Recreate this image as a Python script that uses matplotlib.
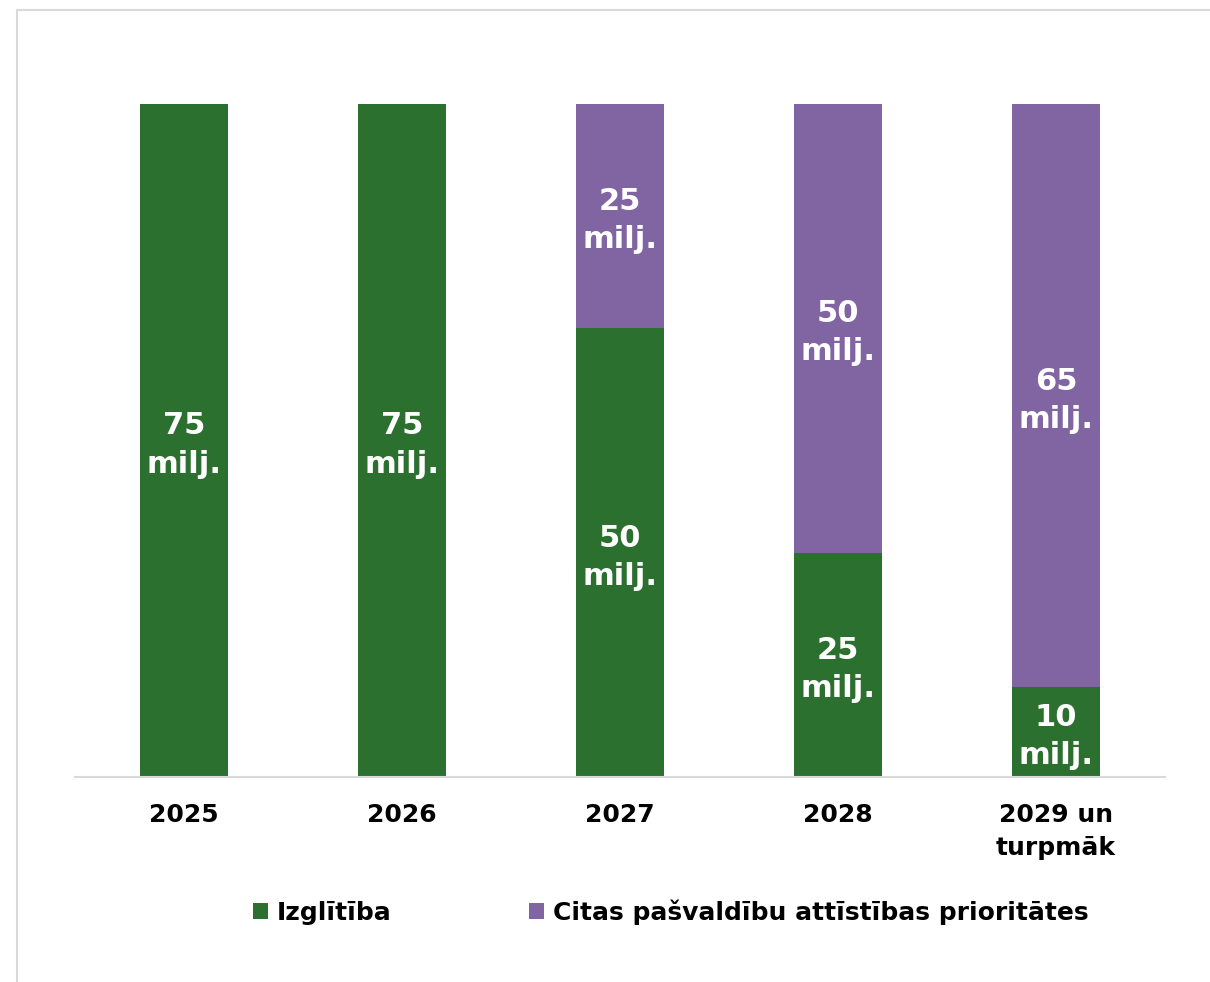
import matplotlib
matplotlib.use("Agg")
import matplotlib.pyplot as plt
from matplotlib.patches import Rectangle, Patch

categories = ["2025", "2026", "2027", "2028", "2029 un\nturpmāk"]
izglitiba = [75, 75, 50, 25, 10]
citas = [0, 0, 25, 50, 65]
series_names = ["Izglītība", "Citas pašvaldību attīstības prioritātes"]
colors = ["#2B702E", "#8065A2"]

plt.rcParams['font.family'] = ['DejaVu Sans']

W, H = 1210, 982
fig = plt.figure(figsize=(W / 100, H / 100), dpi=100)

# chart border (light gray), cropped on right and bottom
fig.patches.append(Rectangle((17 / W, -0.05), 1.1, 1 - 10 / H + 0.05,
                             transform=fig.transFigure, fill=False,
                             edgecolor="#D9D9D9", linewidth=1.5))

ax = fig.add_axes([75 / W, 1 - 777 / H, (1165 - 75) / W, (777 - 104) / H])
x = list(range(len(categories)))
b1 = ax.bar(x, izglitiba, width=0.4, color=colors[0], label=series_names[0])
b2 = ax.bar(x, citas, width=0.4, bottom=izglitiba, color=colors[1], label=series_names[1])

for bars, vals, bottoms in ((b1, izglitiba, [0] * 5), (b2, citas, izglitiba)):
    for rect, v, b in zip(bars, vals, bottoms):
        if v <= 0:
            continue
        ax.text(rect.get_x() + rect.get_width() / 2, b + v / 2 - 0.5,
                f"{v}\nmilj.", ha="center", va="center", color="white",
                fontsize=22, fontweight="bold", linespacing=1.4)

ax.set_xlim(-0.5, 4.5)
ax.set_ylim(0, 75)
ax.set_xticks(x)
ax.set_xticklabels(categories, fontsize=18, fontweight="bold", linespacing=1.45)
ax.tick_params(axis="x", length=0, pad=19)
ax.set_yticks([])
for s in ("top", "right", "left"):
    ax.spines[s].set_visible(False)
ax.spines["bottom"].set_color("#D9D9D9")
ax.spines["bottom"].set_linewidth(1.5)

handles = [Patch(facecolor=colors[0]), Patch(facecolor=colors[1])]
fig.legend(handles, series_names, loc="center", bbox_to_anchor=(671 / W, 1 - 912 / H),
           ncol=2, frameon=False, prop={"size": 18, "weight": "bold"},
           handlelength=0.6, handleheight=0.6, handletextpad=0.35, columnspacing=5.5)

fig.savefig("out.png", dpi=100)
